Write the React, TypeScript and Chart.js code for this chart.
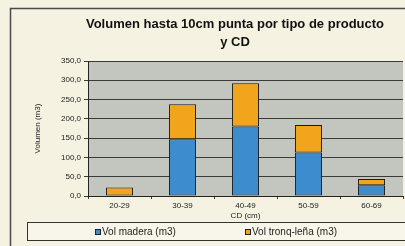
import React, { useEffect, useRef } from "react";
import { Chart, registerables } from "chart.js";

Chart.register(...registerables);

const titleLines = ["Volumen hasta 10cm punta por tipo de producto", "y CD"];
const categories = ["20-29", "30-39", "40-49", "50-59", "60-69"];
const volMadera: (number | null)[] = [null, 147, 180, 113, 28];
const volTrozoLena = [22, 91, 112, 71, 16];
const seriesNames = ["Vol madera (m3)", "Vol tronq-leña (m3)"];
const seriesColors = ["#3d8ccd", "#f0a51c"];
const yTitle = "Volumen (m3)";
const xTitle = "CD (cm)";
const yMax = 350;
const yStep = 50;

const FONT = "'Liberation Sans', Arial, sans-serif";

const decorPlugin = {
  id: "decor",
  beforeDraw(chart: any) {
    const ctx = chart.ctx;
    const a = chart.chartArea;
    ctx.save();
    ctx.fillStyle = "#f5f2e2";
    ctx.fillRect(0, 0, chart.width, chart.height);
    ctx.fillStyle = "#c3c5bf";
    ctx.fillRect(a.left, a.top, a.right - a.left, a.bottom - a.top);
    ctx.strokeStyle = "#4a4a48";
    ctx.lineWidth = 1.5;
    ctx.strokeRect(10.5, 8.5, chart.width, chart.height);
    // title
    ctx.fillStyle = "#111";
    ctx.font = `bold 13px ${FONT}`;
    ctx.textAlign = "center";
    ctx.textBaseline = "middle";
    titleLines.forEach((t, i) => ctx.fillText(t, 235, 24 + i * 18));
    ctx.restore();
  },
  afterDraw(chart: any) {
    const ctx = chart.ctx;
    ctx.save();
    // legend box
    ctx.fillStyle = "#f8f6ea";
    ctx.fillRect(27, 222, 416, 18);
    ctx.strokeStyle = "#333";
    ctx.lineWidth = 1;
    ctx.strokeRect(27.5, 222.5, 416, 18);
    const xs = [95, 245];
    ctx.font = `10px ${FONT}`;
    ctx.textBaseline = "middle";
    chart.data.datasets.forEach((ds: any, i: number) => {
      ctx.fillStyle = ds.backgroundColor;
      ctx.fillRect(xs[i], 229, 5, 5);
      ctx.strokeStyle = "#222";
      ctx.strokeRect(xs[i] + 0.5, 229.5, 5, 5);
      ctx.fillStyle = "#222";
      ctx.fillText(ds.label, xs[i] + 7, 232);
    });
    ctx.restore();
  },
};

export default function App() {
  const ref = useRef<HTMLCanvasElement>(null);
  useEffect(() => {
    const chart = new Chart(ref.current!, {
      type: "bar",
      data: {
        labels: categories,
        datasets: [
          {
            label: seriesNames[0],
            data: volMadera,
            backgroundColor: seriesColors[0],
            borderColor: "#1a1a1a",
            borderWidth: 1,
            borderSkipped: false,
          },
          {
            label: seriesNames[1],
            data: volTrozoLena,
            backgroundColor: seriesColors[1],
            borderColor: "#1a1a1a",
            borderWidth: 1,
            borderSkipped: false,
          },
        ],
      },
      options: {
        animation: false,
        responsive: false,
        maintainAspectRatio: false,
        layout: { padding: { left: 0, right: 67, top: 61, bottom: 24 } },
        datasets: { bar: { barPercentage: 0.43, categoryPercentage: 1 } },
        plugins: {
          legend: { display: false },
          tooltip: { enabled: false },
          title: { display: false },
        },
        scales: {
          x: {
            stacked: true,
            afterFit: (s: any) => {
              s.height = 26;
            },
            grid: {
              display: true,
              drawOnChartArea: false,
              drawTicks: true,
              tickLength: 3,
              offset: true,
              color: "#333",
            },
            border: { display: true, color: "#222", width: 1 },
            ticks: {
              color: "#222",
              font: { family: FONT, size: 8 },
              padding: 2,
              maxRotation: 0,
            },
            title: {
              display: true,
              text: xTitle,
              color: "#222",
              font: { family: FONT, size: 8 },
              padding: { top: 0, bottom: 1 },
            },
          },
          y: {
            stacked: true,
            min: 0,
            max: yMax,
            afterFit: (s: any) => {
              s.width = 88;
            },
            grid: {
              color: "#3a3a3a",
              lineWidth: 1,
              drawTicks: true,
              tickLength: 4,
            },
            border: { display: true, color: "#222", width: 1 },
            ticks: {
              stepSize: yStep,
              color: "#222",
              font: { family: FONT, size: 8 },
              padding: 3,
              callback: (v: any) => Number(v).toFixed(1).replace(".", ","),
            },
            title: {
              display: true,
              text: yTitle,
              color: "#222",
              font: { family: FONT, size: 8 },
              padding: { top: 33, bottom: 0 },
            },
          },
        },
      },
      plugins: [decorPlugin],
    });
    return () => chart.destroy();
  }, []);
  return (
    <div
      style={{
        position: "fixed",
        left: 0,
        top: 0,
        width: 405,
        height: 246,
        overflow: "hidden",
        background: "#f5f2e2",
      }}
    >
      <canvas ref={ref} width={470} height={246} style={{ display: "block" }} />
    </div>
  );
}
